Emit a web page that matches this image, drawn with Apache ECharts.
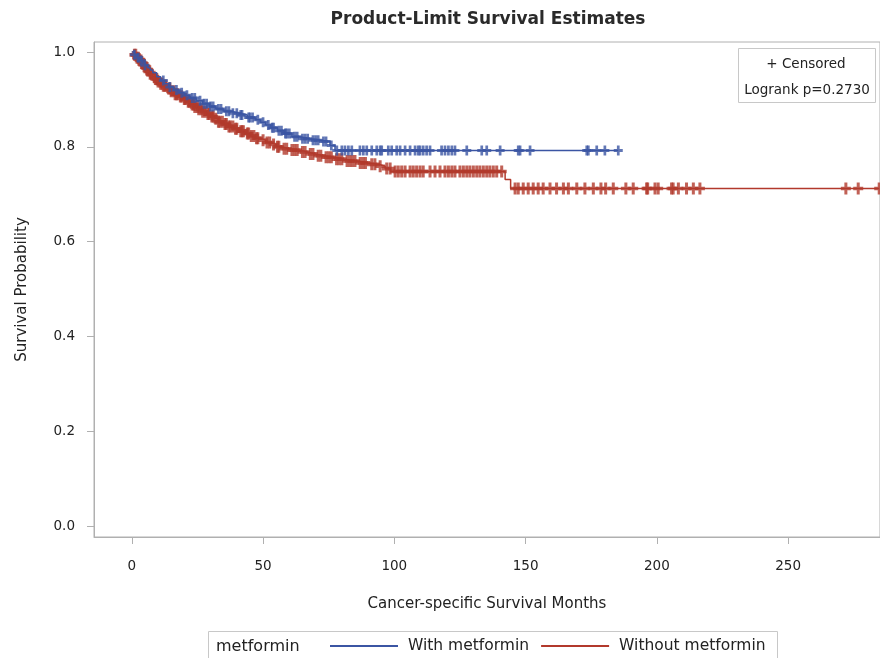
<!DOCTYPE html>
<html lang="en">
<head>
    <meta charset="UTF-8">
    <title>Product-Limit Survival Estimates</title>
    <script src="https://cdn.jsdelivr.net/npm/echarts@6/dist/echarts.min.js"></script>
    <style>
        html, body { margin: 0; padding: 0; background: #fff; }
        #chart { width: 880px; height: 658px; }
    </style>
</head>
<body>
<div id="chart"></div>
<script>
    // KM steps: event time (months) and survival just after it
    const withTimes = [0, 1, 2, 3, 4, 5, 6, 7, 8, 9.5, 11, 12.5, 14, 16, 18, 20, 22, 24.5, 27, 29.5, 32, 35, 38, 41, 44, 47, 49, 51, 53, 55.5, 58, 61, 64, 68, 72, 75.5, 77.4];
    const withSurv = [1, 0.994, 0.988, 0.982, 0.977, 0.972, 0.967, 0.962, 0.956, 0.948, 0.940, 0.933, 0.926, 0.920, 0.914, 0.909, 0.903, 0.897, 0.891, 0.885, 0.880, 0.875, 0.871, 0.867, 0.862, 0.857, 0.852, 0.846, 0.840, 0.834, 0.828, 0.821, 0.817, 0.814, 0.811, 0.803, 0.792];
    const withCensored = [1, 2.5, 3.5, 5, 12, 14.5, 17, 19, 21, 23, 24, 26, 27.5, 28.5, 30, 31, 33, 34, 36, 37, 38.5, 40, 41.5, 42, 44.5, 45, 46, 48, 50, 52, 53.5, 54, 56, 57, 58.5, 59, 60, 62, 63, 65, 66, 67, 69, 70, 71, 73, 74, 76, 78.1, 80, 81.2, 82.5, 83.8, 86.9, 88.2, 89.5, 91.4, 93.3, 94.6, 95.2, 97.7, 99, 100.9, 102.2, 104.1, 106, 107.9, 109.1, 109.8, 111, 112.3, 113.6, 118, 119.3, 120.6, 121.9, 123.1, 127.6, 133.3, 135.2, 140.3, 147.2, 147.9, 151.7, 173.3, 173.9, 177.1, 180.2, 185.3];

    const withoutTimes = [0, 1, 2, 3, 4, 5, 6, 7, 8, 9, 10, 11, 12, 13.5, 15, 16.5, 18, 19.5, 21, 22.5, 24, 25.5, 27, 28.5, 30, 31.5, 33, 35, 37, 39, 41, 43, 45, 47, 49, 51, 53, 55, 57, 60, 64, 67, 70, 73, 77, 81, 86, 90, 94, 96.5, 98.5, 142.2, 144.3];
    const withoutSurv = [1, 0.994, 0.988, 0.982, 0.975, 0.968, 0.961, 0.954, 0.948, 0.943, 0.938, 0.933, 0.929, 0.923, 0.917, 0.911, 0.906, 0.901, 0.895, 0.889, 0.884, 0.879, 0.874, 0.869, 0.864, 0.859, 0.853, 0.848, 0.843, 0.838, 0.833, 0.828, 0.823, 0.818, 0.814, 0.809, 0.805, 0.800, 0.796, 0.793, 0.789, 0.785, 0.781, 0.778, 0.774, 0.770, 0.766, 0.763, 0.759, 0.754, 0.748, 0.731, 0.712];
    const withoutCensored = [1, 1.5, 2, 2.5, 3, 3.5, 4, 4.5, 5, 5.5, 6, 6.5, 7, 7.5, 8.5, 9, 9.5, 10, 11, 11.5, 12, 12.5, 13, 14, 14.5, 15, 16, 16.5, 17, 17.5, 18.5, 19, 20, 20.5, 21.5, 22, 23, 23.5, 24, 25, 25.5, 26.5, 27, 28, 29, 29.5, 30.5, 31, 32, 33, 33.5, 34.5, 35.5, 36, 37, 37.5, 38.5, 39.5, 40, 41.5, 42, 42.5, 44, 44.5, 45.5, 46.5, 47.5, 48, 50, 51.5, 52.5, 54, 55.5, 56, 58, 59, 61, 62, 63, 65, 66, 68, 69, 71, 72, 74, 75, 76, 78, 79, 80, 82, 83, 84, 85, 87, 88, 89, 91.4, 92.6, 94.6, 97.1, 98.4, 100.3, 101.5, 102.8, 104.1, 106, 107.2, 108.5, 109.8, 111, 113.6, 115.5, 117.4, 119.3, 120.6, 121.9, 123.1, 125, 126.3, 127.6, 128.8, 130.1, 131.4, 132.6, 133.9, 135.2, 136.4, 137.7, 139, 140.9, 146, 147.2, 149.1, 151, 152.9, 154.8, 156.7, 159.3, 161.8, 164.4, 166.3, 169.5, 172.6, 175.8, 178.7, 180.5, 183.4, 188.2, 191, 196.1, 196.5, 199.3, 200.5, 205.6, 206.2, 208.2, 211.3, 213.9, 216.4, 272, 276.7, 284.7];

    const xTicks = [0, 50, 100, 150, 200, 250];
    const yTicks = [0, 0.2, 0.4, 0.6, 0.8, 1.0];

    const blue = '#3b55a3';
    const red = '#b2392c';
    const font = 'DejaVu Sans';
    const plus = 'path://M3.5,0H6.5V3.5H10V6.5H6.5V10H3.5V6.5H0V3.5H3.5Z';

    // survival value at time t (last step at or before t)
    function survAt(times, survs, t) {
        let s = survs[0];
        for (let i = 0; i < times.length; i++) {
            if (times[i] <= t) s = survs[i];
        }
        return s;
    }
    function stepLine(times, survs, censored) {
        let pts = times.map((t, i) => [t, survs[i]]);
        let end = censored[censored.length - 1];
        pts.push([end, survAt(times, survs, end)]);
        return pts;
    }
    function marks(times, survs, censored) {
        return censored.map(t => [t, survAt(times, survs, t)]);
    }

    let chart = echarts.init(document.getElementById('chart'));
    let option = {
        animation: false,
        title: {
            text: 'Product-Limit Survival Estimates',
            left: 483, top: 6, textAlign: 'center',
            textStyle: { fontFamily: font, fontSize: 17, fontWeight: 'bold', color: '#2a2a2a' }
        },
        grid: { left: 94, top: 42, right: 0, bottom: 121, show: true, borderColor: '#b0b0b0', borderWidth: 1 },
        xAxis: {
            type: 'value', min: -14.4, max: 285,
            name: 'Cancer-specific Survival Months', nameLocation: 'middle', nameGap: 60,
            nameTextStyle: { fontFamily: font, fontSize: 15, color: '#222' },
            axisLine: { show: true, onZero: false, lineStyle: { color: '#b0b0b0' } },
            axisTick: { show: true, length: 7, customValues: xTicks, lineStyle: { color: '#b0b0b0' } },
            axisLabel: { customValues: xTicks, margin: 22, fontFamily: font, fontSize: 13.5, color: '#222' },
            splitLine: { show: false }
        },
        yAxis: {
            type: 'value', min: -0.0232, max: 1.0211,
            name: 'Survival Probability', nameLocation: 'middle', nameGap: 64, nameRotate: 90,
            nameTextStyle: { fontFamily: font, fontSize: 15, color: '#222' },
            axisLine: { show: true, onZero: false, lineStyle: { color: '#b0b0b0' } },
            axisTick: { show: true, length: 7, customValues: yTicks, lineStyle: { color: '#b0b0b0' } },
            axisLabel: { customValues: yTicks, margin: 19, fontFamily: font, fontSize: 13.5, color: '#222', formatter: v => v.toFixed(1) },
            splitLine: { show: false }
        },
        legend: {
            left: 330, top: 638,
            padding: 0,
            itemGap: 12, itemWidth: 68, itemHeight: 2,
            icon: 'rect',
            textStyle: { fontFamily: font, fontSize: 15.5, color: '#222', padding: [0, 0, 0, 5] },
            data: ['With metformin', 'Without metformin']
        },
        graphic: [
            { type: 'rect', shape: { x: 208.5, y: 631.5, width: 569, height: 30 }, style: { fill: 'none', stroke: '#c8c8c8', lineWidth: 1 } },
            { type: 'text', left: 216, top: 639, style: { text: 'metformin', font: '16px "DejaVu Sans"', fill: '#222' } },
            { type: 'rect', shape: { x: 738.5, y: 48.5, width: 137, height: 54 }, style: { fill: '#fff', stroke: '#c8c8c8', lineWidth: 1 }, z: 10 },
            { type: 'text', x: 806, y: 57, style: { text: '+ Censored', font: '13.5px "DejaVu Sans"', fill: '#222', align: 'center' }, z: 11 },
            { type: 'text', x: 807, y: 83, style: { text: 'Logrank p=0.2730', font: '13.5px "DejaVu Sans"', fill: '#222', align: 'center' }, z: 11 }
        ],
        series: [
            {
                name: 'With metformin', type: 'line', step: 'end', showSymbol: false,
                color: blue, lineStyle: { width: 1.5 },
                data: stepLine(withTimes, withSurv, withCensored), z: 3
            },
            {
                name: 'Without metformin', type: 'line', step: 'end', showSymbol: false,
                color: red, lineStyle: { width: 1.5 },
                data: stepLine(withoutTimes, withoutSurv, withoutCensored), z: 2
            },
            {
                name: 'With metformin', type: 'scatter', symbol: plus, symbolSize: [9, 10],
                itemStyle: { color: blue }, data: marks(withTimes, withSurv, withCensored), z: 3
            },
            {
                name: 'Without metformin', type: 'scatter', symbol: plus, symbolSize: [10, 12],
                itemStyle: { color: red }, data: marks(withoutTimes, withoutSurv, withoutCensored), z: 2
            }
        ]
    };
    chart.setOption(option);
</script>
</body>
</html>
